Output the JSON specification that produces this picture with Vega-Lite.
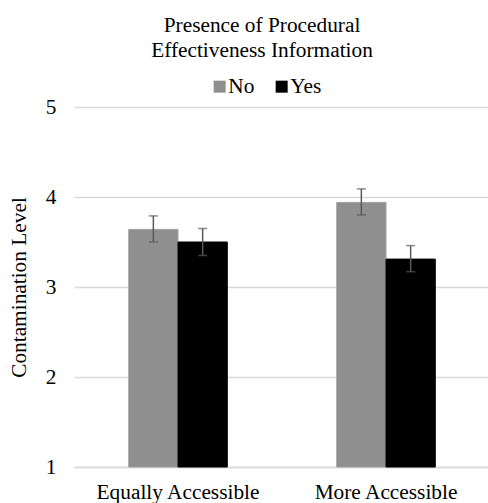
{
  "$schema": "https://vega.github.io/schema/vega-lite/v6.json",
  "autosize": "none",
  "width": 416,
  "height": 360,
  "padding": {"left": 74, "top": 107, "right": 0, "bottom": 36},
  "background": "white",
  "config": {
    "view": {"stroke": null},
    "font": "Times New Roman, Liberation Serif, serif",
    "axis": {"labelFont": "Times New Roman, Liberation Serif, serif", "titleFont": "Times New Roman, Liberation Serif, serif", "labelColor": "#000", "titleColor": "#000"},
    "legend": {"labelFont": "Times New Roman, Liberation Serif, serif"},
    "title": {"font": "Times New Roman, Liberation Serif, serif"}
  },
  "title": {
    "text": ["Presence of Procedural", "Effectiveness Information"],
    "fontSize": 21.33,
    "fontWeight": "normal",
    "lineHeight": 25,
    "color": "#000",
    "anchor": "middle",
    "dx": -20,
    "offset": 15
  },
  "data": {
    "values": [
      {"cat": "Equally Accessible", "group": "No", "mean": 3.64, "lo": 3.50, "hi": 3.79},
      {"cat": "Equally Accessible", "group": "Yes", "mean": 3.50, "lo": 3.35, "hi": 3.65},
      {"cat": "More Accessible", "group": "No", "mean": 3.94, "lo": 3.80, "hi": 4.09},
      {"cat": "More Accessible", "group": "Yes", "mean": 3.31, "lo": 3.17, "hi": 3.46}
    ]
  },
  "encoding": {
    "x": {
      "field": "cat", "type": "nominal",
      "scale": {"paddingInner": 0.526, "paddingOuter": 0.263},
      "axis": {"title": null, "labelAngle": 0, "labelFontSize": 21.33, "ticks": false, "domain": true, "domainColor": "#d9d9d9", "domainWidth": 1.5, "labelPadding": 14}
    },
    "xOffset": {"field": "group", "type": "nominal", "scale": {"paddingInner": 0, "paddingOuter": 0}}
  },
  "layer": [
    {
      "mark": {"type": "bar", "strokeWidth": 1},
      "encoding": {
        "y": {
          "field": "mean", "type": "quantitative",
          "scale": {"domain": [1, 5], "nice": false, "zero": false},
          "axis": {"title": "Contamination Level", "format": "d", "titleFontSize": 21.33, "titleFontWeight": "normal", "titlePadding": 16, "labelFontSize": 21.33, "labelPadding": 18, "ticks": false, "domain": false, "values": [1, 2, 3, 4, 5], "gridColor": "#d9d9d9", "gridWidth": 1.5}
        },
        "y2": {"datum": 1},
        "color": {
          "field": "group", "type": "nominal",
          "scale": {"domain": ["No", "Yes"], "range": ["#8f8f8f", "#000000"]},
          "legend": {"title": null, "orient": "none", "legendX": 135, "legendY": -31, "direction": "horizontal", "symbolType": "square", "symbolSize": 144, "symbolStrokeWidth": 0, "labelFontSize": 21.33, "labelColor": "#000", "columnPadding": 16, "labelOffset": -2}
        },
        "stroke": {
          "field": "group", "type": "nominal",
          "scale": {"domain": ["No", "Yes"], "range": ["#a0a0a0", "#000000"]},
          "legend": null
        }
      }
    },
    {
      "mark": {"type": "rule", "color": "#5a5a5a", "strokeWidth": 1.5},
      "encoding": {
        "y": {"field": "lo", "type": "quantitative"},
        "y2": {"field": "hi"}
      }
    },
    {
      "mark": {"type": "tick", "color": "#5a5a5a", "thickness": 1.5, "size": 9},
      "encoding": {"y": {"field": "lo", "type": "quantitative"}}
    },
    {
      "mark": {"type": "tick", "color": "#5a5a5a", "thickness": 1.5, "size": 9},
      "encoding": {"y": {"field": "hi", "type": "quantitative"}}
    }
  ]
}
